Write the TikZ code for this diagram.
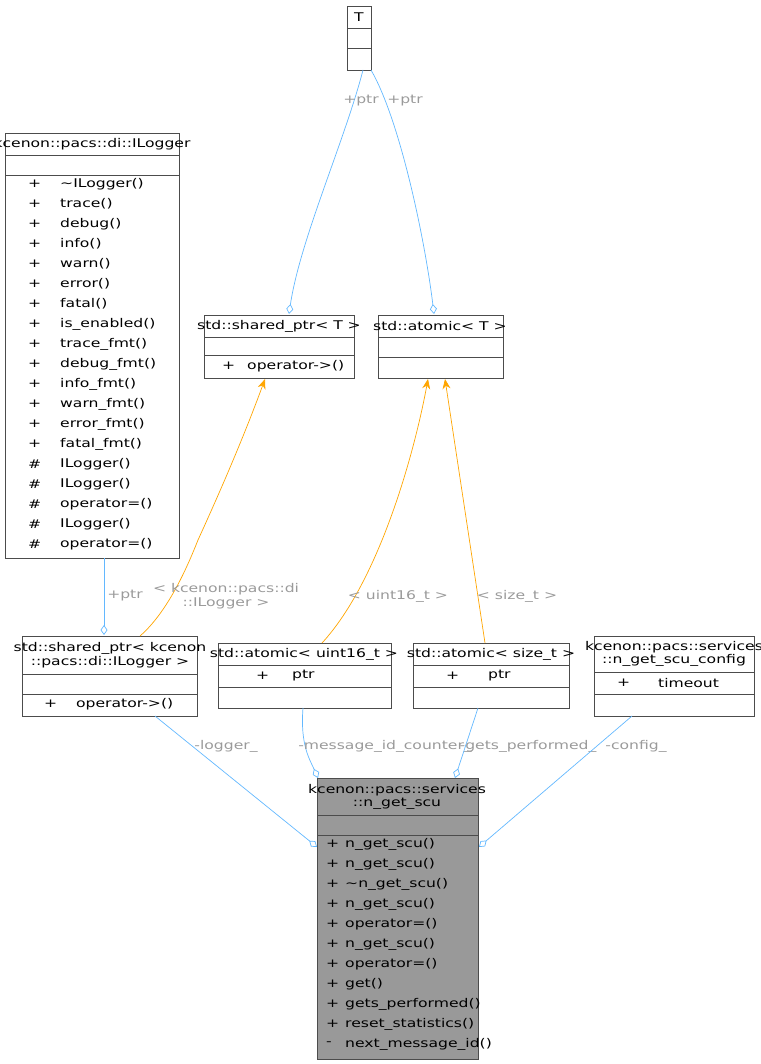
\documentclass[tikz,border=0pt]{standalone}
\usepackage{fontspec}
\setmainfont{DejaVu Sans}
\newfontfamily\dvw[FakeStretch=1.3]{DejaVu Sans}
\usetikzlibrary{arrows.meta}
\definecolor{lb}{HTML}{63B8FF}
\definecolor{lab}{HTML}{9A9A9A}
\definecolor{orng}{HTML}{FFA500}
\newcommand{\dfont}{\dvw\fontsize{12pt}{13.5pt}\selectfont}
\begin{document}
\begin{tikzpicture}[x=1pt,y=-1pt,
 box/.style={draw=black!70,fill=white,anchor=north west,inner sep=0,line width=0.6pt},
 txt/.style={anchor=west,inner sep=0,font=\dfont},
 ctxt/.style={align=center,inner sep=0,font=\dfont},
 lbl/.style={text=lab,inner sep=0,align=center,font=\dfont},
 agg/.style={draw=lb,line width=0.7pt,-{Diamond[open,length=10pt,width=7pt]}},
 inh/.style={draw=orng,line width=0.7pt,-{Stealth[length=10pt,width=8pt]}}]
\useasboundingbox (0,0) rectangle (760,1064);
% T
\node[box,minimum width=24pt,minimum height=64pt] (T) at (347,6) {};
\draw[black!70] (347,28)--(371,28) (347,48)--(371,48);
\node[ctxt] (Tt) at (359,17) {T};
% ILogger
\node[box,minimum width=174pt,minimum height=425pt] (IL) at (5,133) {};
\draw[black!70] (5,155)--(179,155) (5,175)--(179,175);
\node[ctxt] (ILt) at (92,144) {kcenon::pacs::di::ILogger};
\foreach \v/\m/\n [count=\i] in {+/\textasciitilde ILogger()/a,+/trace()/b,+/debug()/c,+/info()/d,+/warn()/e,+/error()/f,+/fatal()/g,+/is\_enabled()/h,+/trace\_fmt()/i,+/debug\_fmt()/j,+/info\_fmt()/k,+/warn\_fmt()/l,+/error\_fmt()/m,+/fatal\_fmt()/n,\#/ILogger()/o,\#/ILogger()/p,\#/operator=()/q,\#/ILogger()/r,\#/operator=()/s}{
 \node[txt] (ILv\n) at (28,{164+20*\i}) {\v};
 \node[txt] (ILm\n) at (60,{164+20*\i}) {\m};
}
% shared_ptr<T>
\node[box,minimum width=150pt,minimum height=63pt] (SP) at (204,315) {};
\draw[black!70] (204,337)--(354,337) (204,355)--(354,355);
\node[ctxt] (SPt) at (279,326) {std::shared\_ptr< T >};
\node[txt] (SPv) at (222,366) {+};
\node[txt] (SPm) at (247,366) {operator->()};
% atomic<T>
\node[box,minimum width=125pt,minimum height=63pt] (AT) at (378,315) {};
\draw[black!70] (378,337)--(503,337) (378,357)--(503,357);
\node[ctxt] (ATt) at (440,326) {std::atomic< T >};
% shared_ptr<ILogger>
\node[box,minimum width=175pt,minimum height=80pt] (SPL) at (22,636) {};
\draw[black!70] (22,674)--(197,674) (22,694)--(197,694);
\node[ctxt] (SPLt) at (110,655) {std::shared\_ptr< kcenon\\::pacs::di::ILogger >};
\node[txt] (SPLv) at (44,704) {+};
\node[txt] (SPLm) at (76,704) {operator->()};
% atomic<uint16_t>
\node[box,minimum width=173pt,minimum height=65pt] (AU) at (218,643) {};
\draw[black!70] (218,665)--(391,665) (218,687)--(391,687);
\node[ctxt] (AUt) at (304,654) {std::atomic< uint16\_t >};
\node[txt] (AUv) at (256,676) {+};
\node[txt] (AUm) at (292,676) {ptr};
% atomic<size_t>
\node[box,minimum width=156pt,minimum height=65pt] (AS) at (413,643) {};
\draw[black!70] (413,665)--(569,665) (413,687)--(569,687);
\node[ctxt] (ASt) at (491,654) {std::atomic< size\_t >};
\node[txt] (ASv) at (446,676) {+};
\node[txt] (ASm) at (488,676) {ptr};
% config
\node[box,minimum width=160pt,minimum height=80pt] (CF) at (594,636) {};
\draw[black!70] (594,672)--(754,672) (594,694)--(754,694);
\node[ctxt] (CFt) at (674,654) {kcenon::pacs::services\\::n\_get\_scu\_config};
\node[txt] (CFv) at (617,683) {+};
\node[txt] (CFm) at (658,683) {timeout};
% n_get_scu
\node[box,fill=black!40,minimum width=161pt,minimum height=281pt] (NG) at (317,778) {};
\draw[black!70] (317,815)--(478,815) (317,835)--(478,835);
\node[ctxt] (NGt) at (397,797) {kcenon::pacs::services\\::n\_get\_scu};
\foreach \v/\m/\n [count=\i] in {+/n\_get\_scu()/a,+/n\_get\_scu()/b,+/\textasciitilde n\_get\_scu()/c,+/n\_get\_scu()/d,+/operator=()/e,+/n\_get\_scu()/f,+/operator=()/g,+/get()/h,+/gets\_performed()/i,+/reset\_statistics()/j,-/next\_message\_id()/k}{
 \node[txt] (NGv\n) at (326,{824+20*\i}) {\v};
 \node[txt] (NGm\n) at (345,{824+20*\i}) {\m};
}
% edges
\coordinate (Tb1) at (363,70);
\coordinate (Tb2) at (371,70);
\draw[agg] (Tb1) .. controls (345,140) and (300,240) .. (289,314);
\node[lbl] (l1) at (361,101) {+ptr};
\draw[agg] (Tb2) .. controls (400,120) and (425,240) .. (434,314);
\node[lbl] (l2) at (405,101) {+ptr};
\draw[inh] (140,636) .. controls (170,610) and (190,560) .. (198,540) .. controls (230,470) and (250,420) .. (265,379);
\node[lbl] (l3) at (226,596) {< kcenon::pacs::di\\::ILogger >};
\draw[agg] (104,558) -- (104,635);
\node[lbl] (l4) at (125,596) {+ptr};
\draw[inh] (322,643) .. controls (380,580) and (415,450) .. (428,379);
\node[lbl] (l5) at (398,596) {< uint16\_t >};
\draw[inh] (485,643) -- (445,379);
\node[lbl] (l6) at (517,596) {< size\_t >};
\draw[agg] (155,716) -- (317,847);
\node[lbl] (l7) at (226,746) {-logger\_};
\draw[agg] (303,708) .. controls (300,745) and (310,760) .. (318,778);
\node[lbl] (l8) at (385,746) {-message\_id\_counter\_};
\draw[agg] (478,708) -- (455,778);
\node[lbl] (l9) at (528,746) {-gets\_performed\_};
\draw[agg] (632,716) -- (479,847);
\node[lbl] (l10) at (636,746) {-config\_};
\end{tikzpicture}
\end{document}
